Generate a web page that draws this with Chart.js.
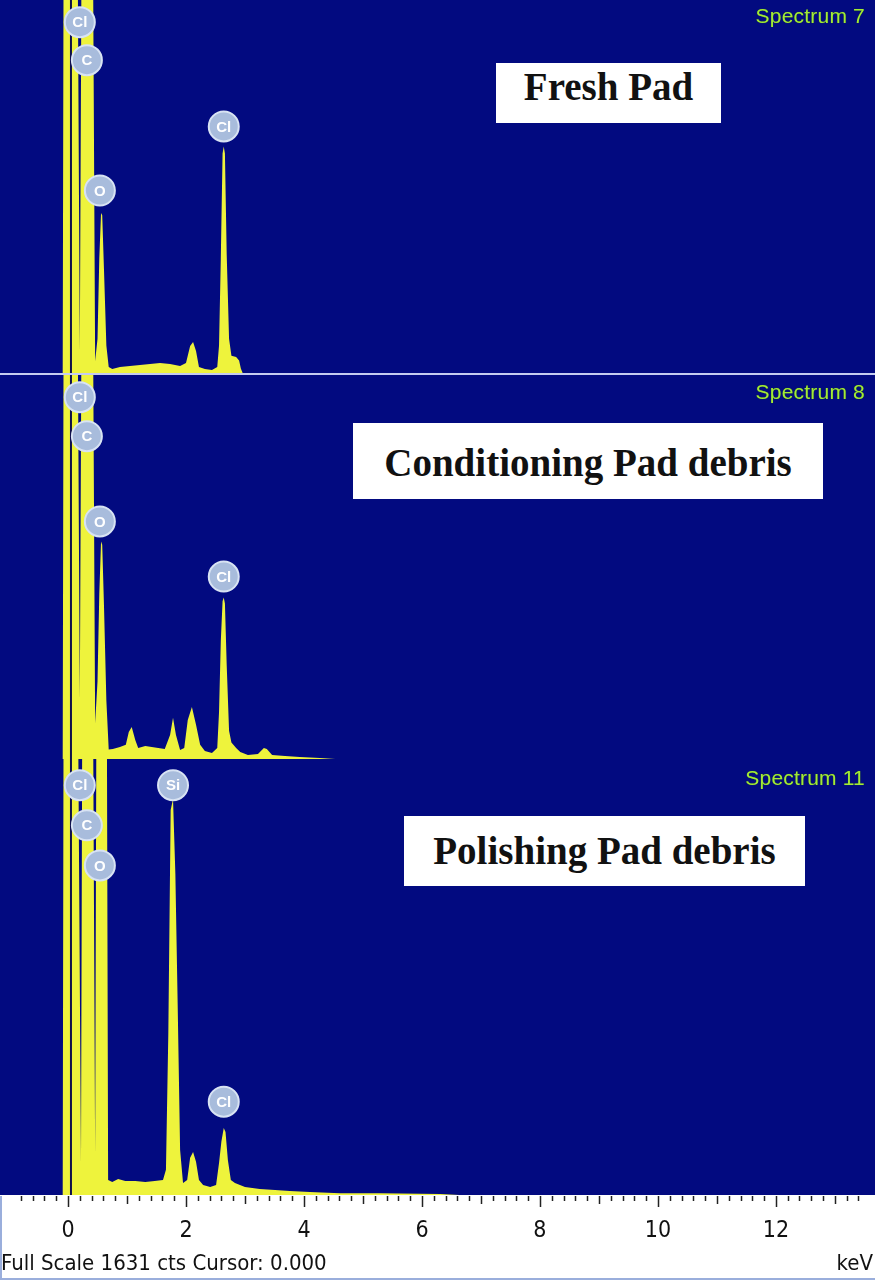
<!DOCTYPE html>
<html lang="en">
<head>
  <meta charset="UTF-8">
  <title>EDS Spectra - Pad debris</title>
  <script src="https://cdn.jsdelivr.net/npm/chart.js"></script>
  <style>
    body {
      margin: 0;
      width: 875px;
      height: 1280px;
      position: relative;
      background: #ffffff;
      overflow: hidden;
      font-family: "Liberation Sans", Arial, sans-serif;
    }
    canvas {
      position: absolute;
      left: 0;
    }
    #fresh { top: 0; }
    #cond { top: 375px; }
    #polish { top: 759px; }
    .sep {
      position: absolute;
      left: 0;
      width: 875px;
      top: 373px;
      height: 2px;
      background: #c4ccef;
    }
    .spec {
      position: absolute;
      right: 10px;
      font-size: 21px;
      letter-spacing: 0.2px;
      color: #a2ea38;
      text-shadow: 0 0 1px #2e5a10;
    }
    .title {
      position: absolute;
      background: #ffffff;
      font-family: "Liberation Serif", "Times New Roman", serif;
      font-weight: bold;
      font-size: 39px;
      line-height: 48px;
      text-align: center;
      color: #111;
      box-sizing: border-box;
    }
    .footer {
      position: absolute;
      top: 1250px;
      font-family: "Liberation Sans Narrow", "DejaVu Sans Condensed", "Arial Narrow", sans-serif;
      font-size: 22px;
      color: #111;
    }
    .edge {
      position: absolute;
      background: #9aaedc;
    }
  </style>
</head>
<body>
  <canvas id="fresh" width="875" height="373"></canvas>
  <div class="sep"></div>
  <canvas id="cond" width="875" height="384"></canvas>
  <canvas id="polish" width="875" height="521"></canvas>

  <div class="spec" style="top:4px;">Spectrum 7</div>
  <div class="spec" style="top:380px;">Spectrum 8</div>
  <div class="spec" style="top:766px;">Spectrum 11</div>

  <div class="title" style="left:496px; top:63px; width:225px; height:60px; padding-top:0px;">Fresh Pad</div>
  <div class="title" style="left:353px; top:423px; width:470px; height:76px; padding-top:16px;">Conditioning Pad debris</div>
  <div class="title" style="left:404px; top:816px; width:401px; height:70px; padding-top:11px;">Polishing Pad debris</div>

  <div class="footer" style="left:1px;">Full Scale 1631 cts Cursor: 0.000</div>
  <div class="footer" style="right:2px;">keV</div>
  <div class="edge" style="left:0; top:1196px; width:2px; height:84px;"></div>
  <div class="edge" style="left:0; top:1278px; width:875px; height:2px;"></div>

  <script>
    // energy axis (keV) and full scale (counts)
    const X_MIN = -1.153;
    const X_MAX = 13.68;
    const FULL_SCALE = 1631;
    const CURSOR_KEV = 0.05;
    const xTickLabels = [0, 2, 4, 6, 8, 10, 12];

    // Spectrum 7 - fresh pad (counts above full scale are off-scale peaks)
    const energyFresh = [-1.15, -0.09, -0.07, 0.15, 0.20, 0.24, 0.41, 0.46, 0.50, 0.53, 0.56, 0.58, 0.61, 0.65, 0.69,
      0.75, 0.88, 1.05, 1.22, 1.39, 1.56, 1.73, 1.90, 2.00, 2.07, 2.12, 2.17, 2.22, 2.32, 2.44,
      2.53, 2.56, 2.59, 2.62, 2.64, 2.66, 2.69, 2.73, 2.77, 2.85, 2.90, 2.93, 2.96, 13.68];
    const countsFresh = [0, 0, 2500, 2500, 96, 2500, 2500, 53, 150, 500, 700, 690, 450, 120, 26,
      18, 26, 31, 35, 39, 44, 39, 31, 44, 118, 136, 96, 26, 18, 13,
      26, 120, 500, 960, 990, 960, 520, 150, 75, 70, 55, 20, 0, 0];

    // Spectrum 8 - conditioning pad debris
    const energyCond = [-1.15, -0.09, -0.07, 0.15, 0.20, 0.24, 0.41, 0.46, 0.50, 0.53, 0.56, 0.58, 0.61, 0.65, 0.69,
      0.76, 0.88, 0.98, 1.03, 1.08, 1.14, 1.19, 1.31, 1.42, 1.53, 1.64, 1.73, 1.78, 1.83, 1.90,
      1.97, 2.03, 2.10, 2.17, 2.24, 2.32, 2.44, 2.53, 2.56, 2.59, 2.62, 2.64, 2.66, 2.69, 2.73,
      2.77, 2.85, 2.92, 3.05, 3.22, 3.32, 3.37, 3.46, 3.68, 3.93, 4.27, 4.53, 13.68];
    const countsCond = [0, 0, 2500, 2500, 251, 2500, 2500, 153, 330, 700, 924, 910, 650, 250, 40,
      43, 51, 60, 115, 136, 81, 47, 55, 51, 47, 43, 102, 175, 102, 38,
      47, 166, 221, 145, 60, 34, 26, 47, 200, 500, 670, 686, 660, 400, 120,
      70, 47, 30, 17, 21, 47, 43, 17, 13, 9, 4, 0, 0];

    // Spectrum 11 - polishing pad debris
    const energyPolish = [-1.15, -0.09, -0.07, 0.15, 0.22, 0.25, 0.41, 0.46, 0.49, 0.65, 0.68, 0.75, 0.85, 0.97, 1.14,
      1.31, 1.47, 1.61, 1.66, 1.70, 1.74, 1.78, 1.82, 1.86, 1.90, 1.95, 2.02, 2.07, 2.12, 2.17,
      2.22, 2.29, 2.41, 2.51, 2.56, 2.60, 2.64, 2.67, 2.71, 2.76, 2.83, 3.00, 3.25, 3.51, 3.76,
      4.10, 4.61, 5.29, 6.31, 6.64, 13.68];
    const countsPolish = [0, 0, 2500, 2500, 124, 2500, 2500, 157, 2500, 2500, 56, 49, 60, 52, 52,
      49, 52, 56, 94, 600, 1440, 1481, 1200, 700, 169, 45, 56, 139, 161, 124,
      56, 37, 30, 37, 120, 200, 251, 236, 131, 56, 45, 30, 22, 19, 15,
      11, 7, 7, 4, 0, 0];

    // element markers
    const markNamesFresh = ['Cl', 'C', 'O', 'Cl'];
    const markKeVFresh = [0.20, 0.32, 0.54, 2.64];
    const markCtsFresh = [1534, 1368, 798, 1078];

    const markNamesCond = ['Cl', 'C', 'O', 'Cl'];
    const markKeVCond = [0.20, 0.32, 0.54, 2.64];
    const markCtsCond = [1537, 1371, 1009, 775];

    const markNamesPolish = ['Cl', 'Si', 'C', 'O', 'Cl'];
    const markKeVPolish = [0.20, 1.78, 0.32, 0.54, 2.64];
    const markCtsPolish = [1533, 1533, 1383, 1233, 349];

    const NAVY = '#020a80';
    const YELLOW = '#eef33c';

    const pairs = (xs, ys) => xs.map((x, i) => ({ x: x, y: ys[i] }));

    const panelBg = {
      id: 'panelBg',
      beforeDraw(chart) {
        const { ctx, chartArea: a } = chart;
        ctx.save();
        ctx.fillStyle = NAVY;
        ctx.fillRect(a.left, a.top, a.width, a.height);
        ctx.restore();
      }
    };

    const markerText = {
      id: 'markerText',
      afterDatasetsDraw(chart) {
        const ctx = chart.ctx;
        chart.data.datasets.forEach((ds, di) => {
          if (!ds.names) return;
          const meta = chart.getDatasetMeta(di);
          ctx.save();
          ctx.fillStyle = '#ffffff';
          ctx.font = 'bold 15px "Liberation Sans", Arial, sans-serif';
          ctx.textAlign = 'center';
          ctx.textBaseline = 'middle';
          meta.data.forEach((pt, i) => {
            ctx.fillText(ds.names[i], pt.x, pt.y + 1);
          });
          ctx.restore();
        });
      }
    };

    // tick marks under the bottom panel: 0.2 keV minor, 1 keV medium, 2 keV major
    const keVTicks = {
      id: 'keVTicks',
      afterDraw(chart) {
        const scale = chart.scales.x;
        if (!scale.options.display) return;
        const ctx = chart.ctx;
        const y0 = chart.chartArea.bottom + 1;
        ctx.save();
        ctx.strokeStyle = '#222';
        ctx.lineWidth = 1.5;
        scale.ticks.forEach(t => {
          const v = t.value;
          if (Math.abs(v * 5 - Math.round(v * 5)) > 1e-6) return;
          const px = Math.round(scale.getPixelForValue(v)) + 0.5;
          let len = 5;
          if (Math.abs(v - Math.round(v)) < 1e-6) len = 8;
          if (Math.abs(v / 2 - Math.round(v / 2)) < 1e-6) len = 11;
          ctx.beginPath();
          ctx.moveTo(px, y0);
          ctx.lineTo(px, y0 + len);
          ctx.stroke();
        });
        ctx.restore();
      }
    };

    function makePanel(id, energies, counts, names, mKeV, mCts, showAxis) {
      const ctx = document.getElementById(id).getContext('2d');
      const xScale = {
        type: 'linear',
        min: X_MIN,
        max: X_MAX,
        display: showAxis,
        position: 'bottom',
        grid: { display: false, drawTicks: false },
        border: { display: false },
        ticks: {
          stepSize: 0.2,
          autoSkip: false,
          maxRotation: 0,
          padding: 22,
          color: '#111',
          font: { family: '"Liberation Sans Narrow", "DejaVu Sans Condensed", "Arial Narrow", sans-serif', size: 23 },
          callback: v => {
            const r = Math.round(v * 10) / 10;
            return xTickLabels.includes(r) ? String(r) : '';
          }
        }
      };
      if (showAxis) {
        xScale.afterFit = s => {
          s.height = 85;
          s.paddingLeft = 0;
          s.paddingRight = 0;
        };
      }

      return new Chart(ctx, {
        type: 'line',
        data: {
          datasets: [
            {
              data: pairs(energies, counts),
              borderColor: YELLOW,
              borderWidth: 0,
              backgroundColor: YELLOW,
              fill: 'origin',
              pointRadius: 0,
              tension: 0,
              order: 3
            },
            {
              data: [{ x: CURSOR_KEV, y: 0 }, { x: CURSOR_KEV, y: 2500 }],
              borderColor: '#10104a',
              borderWidth: 2,
              pointRadius: 0,
              fill: false,
              order: 2
            },
            {
              data: pairs(mKeV, mCts),
              names: names,
              showLine: false,
              pointRadius: 15,
              pointBackgroundColor: '#a8bcdc',
              pointBorderColor: '#d8e3f3',
              pointBorderWidth: 2,
              order: 1
            }
          ]
        },
        options: {
          responsive: false,
          animation: false,
          layout: { padding: 0, autoPadding: false },
          plugins: {
            legend: { display: false },
            tooltip: { enabled: false }
          },
          scales: {
            x: xScale,
            y: {
              min: 0,
              max: FULL_SCALE,
              display: false
            }
          }
        },
        plugins: [panelBg, markerText, keVTicks]
      });
    }

    makePanel('fresh', energyFresh, countsFresh, markNamesFresh, markKeVFresh, markCtsFresh, false);
    makePanel('cond', energyCond, countsCond, markNamesCond, markKeVCond, markCtsCond, false);
    makePanel('polish', energyPolish, countsPolish, markNamesPolish, markKeVPolish, markCtsPolish, true);
  </script>
</body>
</html>
